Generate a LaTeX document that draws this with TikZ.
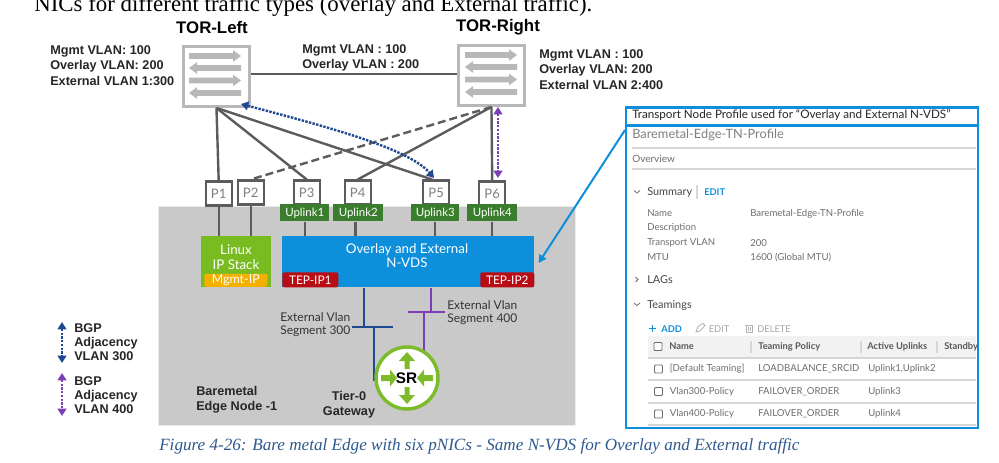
\documentclass[tikz,border=0pt]{standalone}
\usepackage{fontspec}
\setmainfont{Liberation Sans}
\newfontfamily\serifx{Liberation Serif}
\newfontfamily\uix{Lato}
\usetikzlibrary{arrows.meta,calc}
\definecolor{linkgray}{HTML}{5C5C5C}
\definecolor{torgray}{HTML}{B8B8B8}
\definecolor{panelgray}{HTML}{C9C9C9}
\definecolor{upgreen}{HTML}{3A7D2C}
\definecolor{linuxgreen}{HTML}{78BC21}
\definecolor{srgreen}{HTML}{7DBB2A}
\definecolor{mgmtyellow}{HTML}{F4B000}
\definecolor{nvdsblue}{HTML}{0E8FDB}
\definecolor{tepred}{HTML}{B90D16}
\definecolor{bgpblue}{HTML}{1F4A92}
\definecolor{bgppurple}{HTML}{7B3FB5}
\definecolor{uigray}{HTML}{6E6E6E}
\definecolor{uiline}{HTML}{D6D6D6}
\definecolor{capblue}{HTML}{2F5A8F}
\newcommand{\fs}[2]{\fontsize{#1}{#2}\selectfont}
\tikzset{
  x=0.75pt,y=-0.75pt,
  wh/.style 2 args={minimum width=#1*0.75pt,minimum height=#2*0.75pt,inner sep=0pt},
  torbox/.style={draw=torgray,line width=2.2pt,fill=white},
  portbox/.style={draw=linkgray,line width=1.8pt,fill=white,text=gray,font=\uix\fs{9.8}{11},wh={26}{24}},
  upbox/.style={fill=upgreen,text=white,font=\uix\fs{8.6}{11},wh={#1}{17}},
  boldlbl/.style={inner sep=0pt,align=left,font=\bfseries\fs{9.5}{11.5},text=black!85},
  titlelbl/.style={inner sep=0pt,font=\bfseries\fs{12.6}{14},text=black},
  seglbl/.style={inner sep=0pt,align=left,font=\uix\fs{9}{10},text=black!80},
  whitelbl/.style={inner sep=0pt,align=center,text=white,font=\uix\fs{10}{11}},
  tepbox/.style={fill=tepred,rounded corners=1.5pt,text=white,font=\uix\fs{8.9}{11}},
  link/.style={draw=linkgray,line width=1.8pt},
  bgp/.style={line width=1.8pt,densely dotted,{Triangle[length=5.5pt,width=6.5pt]}-{Triangle[length=5.5pt,width=6.5pt]}},
  ui/.style={inner sep=0pt,anchor=west,text=uigray,font=\uix\fs{7.2}{9}},
  uihead/.style={ui,text=black!65,font=\uix\bfseries\fs{7}{9}},
  uibold/.style={ui,text=black!72,font=\uix\fs{8.2}{10}},
  chev/.style={draw=uigray,line width=.6pt},
  chk/.style={draw=uigray,line width=.7pt,rounded corners=.8pt,fill=white,wh={8}{8}},
  sep/.style={draw=uiline,line width=.9pt},
  pics/torarrows/.style={code={
    \fill[torgray] (0,-2.8) -- (44,-2.8) -- (44,-5.8) -- (52,0) -- (44,5.8) -- (44,2.8) -- (0,2.8) -- cycle;
    \fill[torgray] (52,9.2) -- (8,9.2) -- (8,6.2) -- (0,12) -- (8,17.8) -- (8,14.8) -- (52,14.8) -- cycle;
    \fill[torgray] (0,21.7) -- (44,21.7) -- (44,18.7) -- (52,24.5) -- (44,30.3) -- (44,27.3) -- (0,27.3) -- cycle;
    \fill[torgray] (52,34.2) -- (8,34.2) -- (8,31.2) -- (0,37) -- (8,42.8) -- (8,39.8) -- (52,39.8) -- cycle;
  }}
}
\begin{document}
\begin{tikzpicture}
\useasboundingbox (0,0) rectangle (999,463);
\fill[white] (0,0) rectangle (999,463);
\node[anchor=base west,inner sep=0pt,font=\serifx\fs{17.15}{19}] (intro) at (34,12) {NICs for different traffic types (overlay and External traffic).};
% edge node panel
\node[draw=black!8,line width=1pt,fill=panelgray,wh={417}{219},anchor=north west] (edge) at (158,206) {};
% switches
\node[torbox,wh={66}{60},anchor=north west] (torl) at (182,45) {};
\node[torbox,wh={66}{60},anchor=north west] (torr) at (457,44) {};
\pic at (189,56) {torarrows};
\pic at (465,55) {torarrows};
\node[titlelbl] (torlt) at (212,27) {TOR-Left};
\node[titlelbl] (torrt) at (498,27) {TOR-Right};
\node[boldlbl,anchor=west] (vl) at (50,65.5) {Mgmt VLAN: 100\\Overlay VLAN: 200\\External VLAN 1:300};
\node[boldlbl,anchor=west] (vm) at (302,58) {Mgmt VLAN : 100\\Overlay VLAN : 200};
\node[boldlbl,anchor=west] (vr) at (539,69.5) {Mgmt VLAN : 100\\Overlay VLAN: 200\\External VLAN 2:400};
% lower nodes
\node[fill=linuxgreen,wh={70}{51},anchor=north west] (linux) at (201,236) {};
\node[fill=nvdsblue,wh={252}{51},anchor=north west] (nvds) at (282,236) {};
% links
\draw[link] (torl.east |- 0,74) -- (torr.west |- 0,74);
% ports
\node[portbox,anchor=north west] (p1) at (204.5,180.5) {P1};
\node[portbox,anchor=north west] (p2) at (236.5,179.5) {P2};
\node[portbox,anchor=north west] (p3) at (292.5,179.5) {P3};
\node[portbox,anchor=north west] (p4) at (343.5,179.5) {P4};
\node[portbox,anchor=north west] (p5) at (422,179.5) {P5};
\node[portbox,anchor=north west] (p6) at (478,180.5) {P6};
\draw[link] (torl.south) -- (p1.north);
\draw[link] (torl.south) -- (p3.north);
\draw[link] (torl.south) -- ([xshift=-3pt]p5.north);
\draw[link] (torr.south) -- (p4.north);
\draw[link] (torr.south) -- (p6.north);
\draw[link,dash pattern=on 6pt off 3pt] (torr.south) -- (p2.north);
\draw[link] (p1.south) -- (p1.south |- linux.north);
\draw[link] (p2.south) -- (p2.south |- linux.north);
\node[upbox=49,anchor=north west] (u1) at (280,204) {Uplink1};
\node[upbox=50,anchor=north west] (u2) at (333,204) {Uplink2};
\node[upbox=48,anchor=north west] (u3) at (411,204) {Uplink3};
\node[upbox=50,anchor=north west] (u4) at (467,204) {Uplink4};
\draw[link] (u1.south) -- (u1.south |- nvds.north);
\draw[link] ([xshift=-2pt]u2.south) -- ([xshift=-2pt]u2.south |- nvds.north);
\draw[link] (u3.south) -- (u3.south |- nvds.north);
\draw[link] (u4.south) -- (u4.south |- nvds.north);
% BGP
\coordinate (bgpla) at (241,104);
\coordinate (bgplb) at (434,178);
\draw[bgp,bgpblue] (bgpla) .. controls (340,130) and (410,150) .. (bgplb);
\coordinate (bgpra) at (498,107);
\coordinate (bgprb) at (498,178);
\draw[bgp,bgppurple] (bgpra) -- (bgprb);
% box labels
\node[whitelbl] (linuxt) at (236,257) {Linux\\IP Stack};
\node[fill=mgmtyellow,rounded corners=1.5pt,text=white,font=\uix\fs{9.3}{11},wh={63}{13},anchor=north west] (mgmt) at (204,273.5) {Mgmt-IP};
\node[whitelbl] (nvdst) at (407,255.5) {Overlay and External\\N-VDS};
\node[tepbox,wh={56}{15},anchor=north west] (tep1) at (282,272) {TEP-IP1};
\node[tepbox,wh={54}{15},anchor=north west] (tep2) at (480,272) {TEP-IP2};
% segments
\coordinate (s3l) at (352,327); \coordinate (s3r) at (393,327);
\coordinate (s3a) at (364,327); \coordinate (s3b) at (374,327); \coordinate (s3e) at (374,381);
\coordinate (s4l) at (408,312); \coordinate (s4r) at (445,312);
\coordinate (s4a) at (431,312); \coordinate (s4b) at (424,312); \coordinate (s4e) at (424,352);
\draw[bgpblue,line width=1.5pt] (s3l) -- (s3r) (s3a) -- (s3a |- nvds.south) (s3b) -- (s3e);
\draw[bgppurple,line width=1.5pt] (s4l) -- (s4r) (s4a) -- (s4a |- nvds.south) (s4b) -- (s4e);
\node[seglbl,anchor=west] (seg3) at (280,325) {External Vlan\\Segment 300};
\node[seglbl,anchor=west] (seg4) at (447,313) {External Vlan\\Segment 400};
% SR
\node[circle,draw=srgreen,line width=2.6pt,fill=white,minimum size=62*0.75pt,inner sep=0pt] (sr) at (407,378) {};
\fill[srgreen] (404.5,369) -- (404.5,361) -- (399,361) -- (407,352) -- (415,361) -- (409.5,361) -- (409.5,369) -- cycle;
\fill[srgreen] (404.5,387) -- (404.5,395) -- (399,395) -- (407,404) -- (415,395) -- (409.5,395) -- (409.5,387) -- cycle;
\fill[srgreen] (381,375) -- (390,375) -- (390,369.5) -- (397,378) -- (390,386.5) -- (390,381) -- (381,381) -- cycle;
\fill[srgreen] (433,375) -- (424,375) -- (424,369.5) -- (417,378) -- (424,386.5) -- (424,381) -- (433,381) -- cycle;
\node[inner sep=0pt,font=\bfseries\fs{11.5}{13},text=black] (srt) at (406.5,378) {SR};
\node[boldlbl,anchor=west] (bare) at (196,400) {Baremetal\\Edge Node -1};
\node[boldlbl,align=center] (tier) at (349,405) {Tier-0\\Gateway};
% legend
\coordinate (la) at (62,322); \coordinate (lb) at (62,363);
\coordinate (lc) at (62,373); \coordinate (ld) at (62,416);
\draw[bgp,bgpblue] (la) -- (lb);
\draw[bgp,bgppurple] (lc) -- (ld);
\node[boldlbl,anchor=west,font=\bfseries\fs{9.5}{10.5}] (leg3) at (74,342) {BGP\\Adjacency\\VLAN 300};
\node[boldlbl,anchor=west,font=\bfseries\fs{9.5}{10.5}] (leg4) at (74,395) {BGP\\Adjacency\\VLAN 400};
% profile panel
\node[draw=nvdsblue,line width=1.7pt,fill=white,wh={352}{18},anchor=north west] (phead) at (625,106.5) {};
\node[draw=nvdsblue,line width=1.7pt,fill=white,wh={352}{302},anchor=north west] (pmain) at (625,125) {};
\node[inner sep=0pt,anchor=west,text=black!85,font=\uix\fs{8.75}{10}] (pt) at (632,115.5) {Transport Node Profile used for “Overlay and External N-VDS”};
\coordinate (callout) at (625,130);
\draw[nvdsblue,line width=1.5pt,-{Triangle[length=6pt,width=6pt]}] (callout) -- ([xshift=3pt,yshift=-1pt]nvds.east);
\node[ui,font=\uix\fs{9.6}{12},text=black!50] (pn) at (632,135) {Baremetal-Edge-TN-Profile};
\draw[sep] (632,148) -- (976,148);
\node[ui,font=\uix\fs{7.5}{9}] (ov) at (632,159) {Overview};
\draw[sep] (632,169) -- (976,169);
\draw[chev] (634,190.5) -- (637,193) -- (640,190.5);
\node[uibold] (sum) at (647,192) {Summary};
\draw[sep] (697,185) -- (697,199);
\node[ui,text=nvdsblue,font=\uix\bfseries\fs{7}{9}] (ed) at (704,192.5) {EDIT};
\node[ui] (k1) at (647,213.5) {Name};
\node[ui] (k2) at (647,228) {Description};
\node[ui] (k3) at (647,243) {Transport VLAN};
\node[ui] (k4) at (647,257.5) {MTU};
\node[ui] (v1) at (750,213.5) {Baremetal-Edge-TN-Profile};
\node[ui] (v3) at (750,243) {200};
\node[ui] (v4) at (750,257.5) {1600 (Global MTU)};
\draw[chev] (635.5,277) -- (638,279.5) -- (635.5,282);
\node[uibold] (lags) at (647,280) {LAGs};
\draw[chev] (634,303) -- (637,305.5) -- (640,303);
\node[uibold] (team) at (647,305.5) {Teamings};
\draw[nvdsblue,line width=1pt] (649,328.5) -- (656,328.5) (652.5,325) -- (652.5,332);
\node[ui,text=nvdsblue,font=\uix\bfseries\fs{7}{9}] (add) at (661,329) {ADD};
\draw[black!30,line width=.6pt] (696,332) -- (698,326.5) -- (703,323.5) -- (705,325.5) -- (700,331) -- cycle;
\node[ui,text=black!35,font=\uix\fs{7}{9}] (ed2) at (708.5,329) {EDIT};
\draw[black!30,line width=.6pt] (745,325) -- (753,325) (746,325) rectangle (752,332.5) (748,327) -- (748,331) (750,327) -- (750,331);
\node[ui,text=black!35,font=\uix\fs{7}{9}] (del) at (757,329) {DELETE};
\fill[black!5] (648,336) rectangle (976,358);
\foreach \sx in {751,861,937} \draw[sep] (\sx,341) -- (\sx,353);
\foreach \ly in {358,380,403,425} \draw[sep] (648,\ly) -- (976,\ly);
\node[chk] (c0) at (658,346.5) {};
\node[chk] (c1) at (658.5,369) {};
\node[chk] (c2) at (658.5,391.5) {};
\node[chk] (c3) at (658.5,414) {};
\node[uihead] (h1) at (669,346.5) {Name};
\node[uihead] (h2) at (758,346.5) {Teaming Policy};
\node[uihead] (h3) at (867,346.5) {Active Uplinks};
\node[uihead] (h4) at (944,346.5) {Standby};
\node[ui] (r11) at (669.5,369) {[Default Teaming]};
\node[ui] (r12) at (758,369) {LOADBALANCE\_SRCID};
\node[ui] (r13) at (868,369) {Uplink1,Uplink2};
\node[ui] (r21) at (669.5,391.5) {Vlan300-Policy};
\node[ui] (r22) at (758,391.5) {FAILOVER\_ORDER};
\node[ui] (r23) at (868,391.5) {Uplink3};
\node[ui] (r31) at (669.5,414) {Vlan400-Policy};
\node[ui] (r32) at (758,414) {FAILOVER\_ORDER};
\node[ui] (r33) at (868,414) {Uplink4};
% caption
\node[anchor=base west,inner sep=0pt,text=capblue,font=\serifx\itshape\fs{12.85}{15}] (cap) at (159,450) {Figure 4-26: Bare metal Edge with six pNICs - Same N-VDS for Overlay and External traffic};
\end{tikzpicture}
\end{document}
